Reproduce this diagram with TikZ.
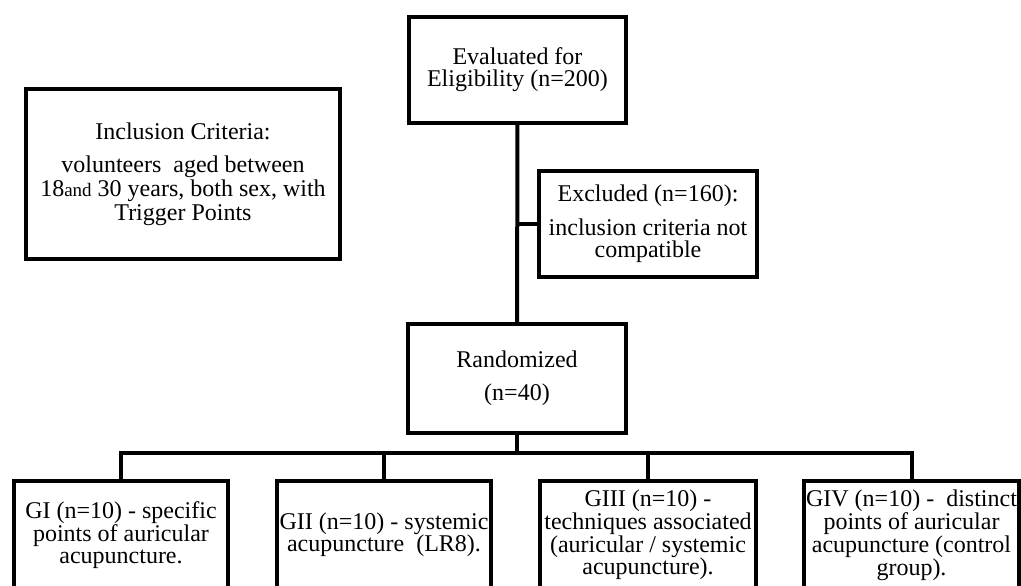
\documentclass[tikz,border=0pt]{standalone}
\usepackage{fontspec}
\setmainfont{Liberation Serif}
\usepackage{tikz}

\begin{document}
\begin{tikzpicture}[x=1pt, y=-1pt,
        box/.style={draw, line width=4pt, inner sep=0pt, align=center,
                    font=\fontsize{24}{22}\selectfont},
        group/.style={box, minimum width=214pt, minimum height=108pt},
        link/.style={line width=4pt}
]
    \useasboundingbox (0,0) rectangle (1021,586);
    \clip (0,0) rectangle (1021,586);
    \node[box, minimum width=217pt, minimum height=106pt] (eval) at (517.5,70)
        {Evaluated for\\Eligibility (n=200)};
    \node[box, minimum width=314pt, minimum height=170pt,
          font=\fontsize{24}{24}\selectfont] (incl) at (183,174)
        {Inclusion Criteria:\\[9pt]volunteers\ \ aged between\hspace*{32pt}\\
         18{\fontsize{19}{24}\selectfont and} 30 years, both sex, with\\Trigger Points};
    \node[box, minimum width=218pt, minimum height=106pt] (excl) at (648,224)
        {Excluded (n=160):\\[12pt]inclusion criteria not\\compatible};
    \node[box, minimum width=218pt, minimum height=109pt] (rand) at (517,378.5)
        {Randomized\\[11pt](n=40)};
    \node[group] (g1) at (121,535)
        {GI (n=10) - specific\\points of auricular\\acupuncture.};
    \node[group] (g2) at (384,535)
        {GII (n=10) - systemic\\acupuncture\ \ (LR8).};
    \node[group, minimum width=216pt, font=\fontsize{24}{20.5}\selectfont] (g3) at (648,535)
        {GIII (n=10) -\\techniques associated\\(auricular / systemic\\acupuncture).};
    \node[group, minimum width=215pt, font=\fontsize{24}{20.5}\selectfont] (g4) at (911.5,535)
        {GIV (n=10) -\ \ distinct\\points of auricular\\acupuncture (control\\group).};
    \coordinate (bus) at (517,453);
    \draw[link] (eval) -- (rand);
    \draw[link] (eval.south |- excl.west) -- (excl.west);
    \draw[link] (rand) -- (bus);
    \draw[link] (g1.north) |- (bus) -| (g4.north);
    \draw[link] (g2.north) -- (g2.north |- bus);
    \draw[link] (g3.north) -- (g3.north |- bus);
\end{tikzpicture}
\end{document}
